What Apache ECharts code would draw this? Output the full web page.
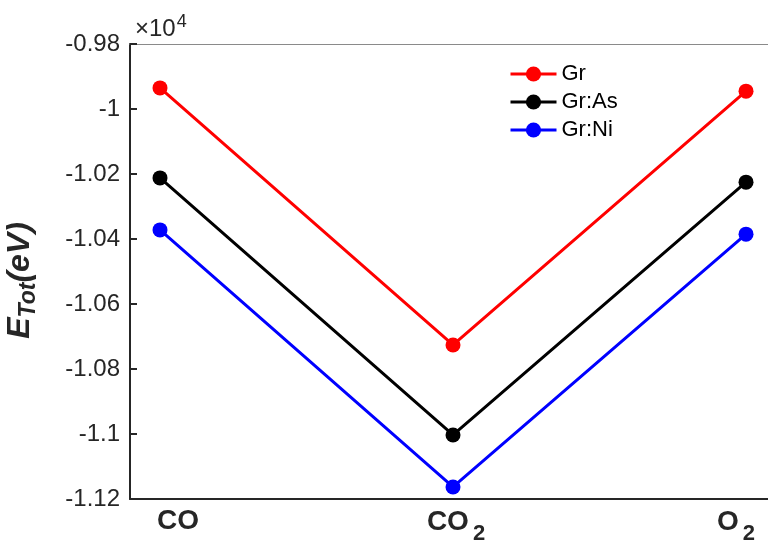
<!DOCTYPE html>
<html>
<head>
<meta charset="utf-8">
<script src="https://cdn.jsdelivr.net/npm/echarts@6/dist/echarts.min.js"></script>
<style>
  html, body { margin: 0; padding: 0; background: #fff; }
  #chart { width: 768px; height: 542px; }
</style>
</head>
<body>
<div id="chart"></div>
<script>
// values in units of 1e4 eV
const categories = ['CO', 'CO2', 'O2'];
const catLabels = ['{p|}{a|CO}', '{r|}{a|CO}{b|2}', '{a|O}{b|2}{q|}'];
const gr = [-0.9935, -1.0726, -0.9945];
const grAs = [-1.0212, -1.1003, -1.0225];
const grNi = [-1.0372, -1.1163, -1.0385];

const chart = echarts.init(document.getElementById('chart'));
const font = 'Liberation Sans, Arial, Helvetica, sans-serif';
const dark = '#262626';

function mkSeries(name, vals, color) {
  return {
    name: name,
    type: 'line',
    data: vals.map((v, i) => [i + 1, v]),
    symbol: 'circle',
    symbolSize: 15,
    lineStyle: { color: color, width: 3 },
    itemStyle: { color: color },
    emphasis: { disabled: true }
  };
}

chart.setOption({
  animation: false,
  textStyle: { fontFamily: font },
  title: {
    text: '{x|×10}{s|4}',
    left: 130, top: 8,
    textStyle: {
      fontWeight: 'normal',
      rich: {
        x: { fontFamily: font, fontSize: 24, fontWeight: 'normal', color: dark },
        s: { fontFamily: font, fontSize: 18, fontWeight: 'normal', color: dark, padding: [0, 0, 14, 1] }
      }
    }
  },
  legend: {
    orient: 'vertical',
    left: 509, top: 63, padding: 0,
    itemWidth: 46, itemHeight: 19, itemGap: 6,
    lineStyle: { width: 3 },
    textStyle: { fontFamily: font, fontSize: 22, color: '#000' },
    data: ['Gr', 'Gr:As', 'Gr:Ni']
  },
  grid: {
    left: 130, top: 44, right: 0, height: 455,
    outerBoundsMode: 'none',
    containLabel: false
  },
  xAxis: [{
    type: 'value',
    min: 0.8976, max: 3.075,
    splitLine: { show: false },
    axisTick: { show: false },
    axisLine: { show: true, onZero: false, lineStyle: { color: dark, width: 2 } },
    axisLabel: {
      customValues: [1, 2, 3],
      margin: 0,
      formatter: v => catLabels[Math.round(v) - 1] || '',
      rich: {
        p: { width: 36 },
        q: { width: 20 },
        r: { width: 6 },
        a: { fontFamily: font, fontSize: 28, fontWeight: 'bold', color: dark, lineHeight: 44 },
        b: { fontFamily: font, fontSize: 22, fontWeight: 'bold', color: dark, padding: [24, 0, 0, 4] }
      }
    }
  }, {
    type: 'value',
    position: 'top',
    min: 0.8976, max: 3.075,
    splitLine: { show: false },
    axisTick: { show: false },
    axisLabel: { show: false },
    axisLine: { show: true, onZero: false, lineStyle: { color: '#8a8a8a', width: 1 } }
  }],
  yAxis: {
    type: 'value',
    min: -1.12, max: -0.98, interval: 0.02,
    splitLine: { show: false },
    axisLine: { show: true, onZero: false, lineStyle: { color: dark, width: 2 } },
    axisTick: { show: true, inside: true, length: 7, lineStyle: { color: dark, width: 2 } },
    axisLabel: {
      margin: 10,
      fontFamily: font, fontSize: 24, color: dark,
      formatter: v => String(parseFloat(v.toFixed(2)))
    },
    name: '{e|E}{t|Tot}{e|(eV)}',
    nameLocation: 'middle',
    nameRotate: 90,
    nameGap: 90,
    nameTextStyle: {
      padding: [0, 18, 0, 0],
      rich: {
        e: { fontFamily: font, fontSize: 32, fontWeight: 'bold', fontStyle: 'italic', color: dark },
        t: { fontFamily: font, fontSize: 23, fontWeight: 'bold', fontStyle: 'italic', color: dark, padding: [17, 0, 0, 0] }
      }
    }
  },
  series: [
    mkSeries('Gr', gr, '#ff0000'),
    mkSeries('Gr:As', grAs, '#000000'),
    mkSeries('Gr:Ni', grNi, '#0000ff')
  ]
});
</script>
</body>
</html>
